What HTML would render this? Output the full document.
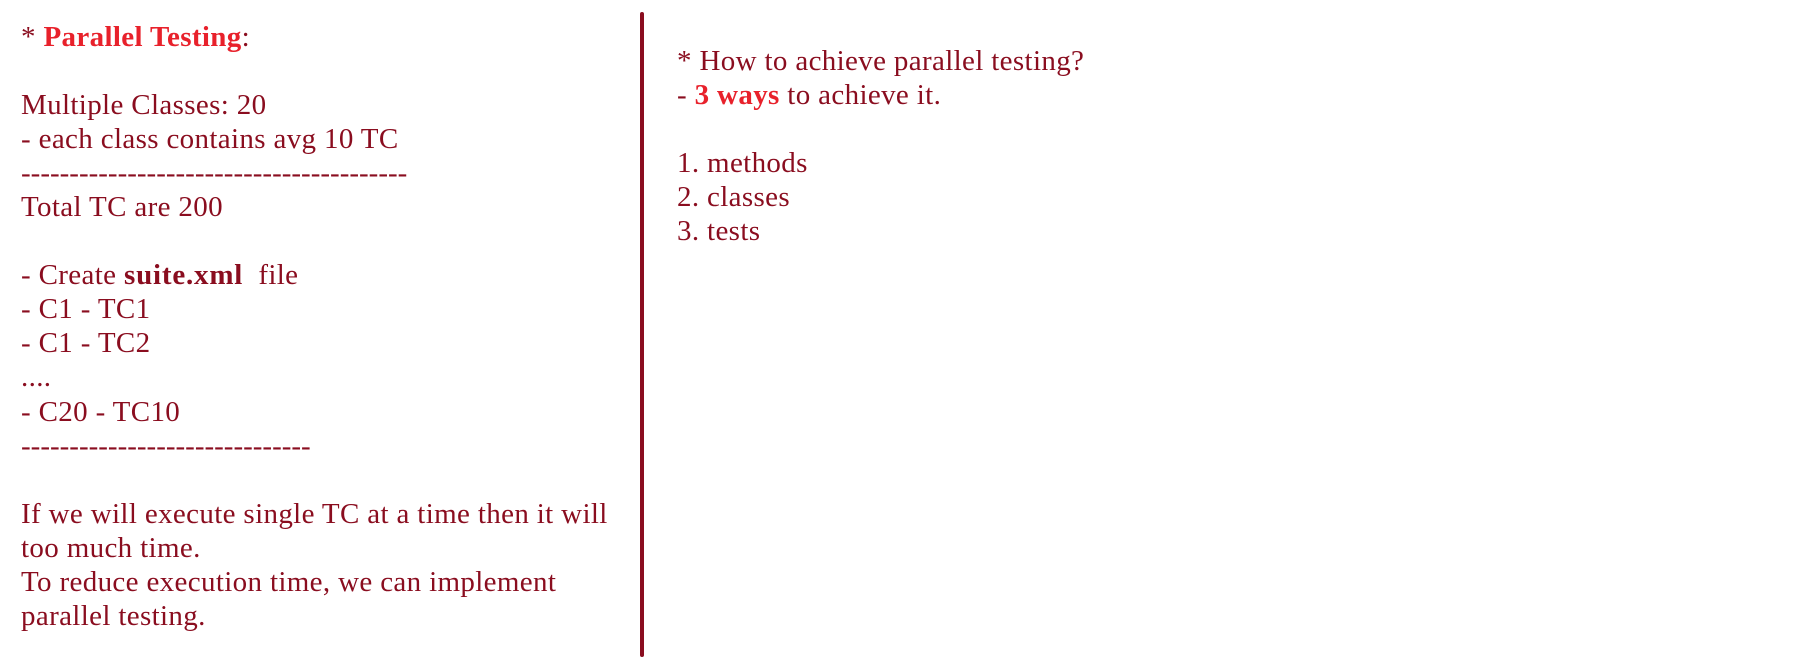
<!DOCTYPE html>
<html><head><style>
body{margin:0;width:1811px;height:665px;background:#fff;overflow:hidden;position:relative;font-family:"Liberation Serif",serif;font-size:29px;letter-spacing:0.35px;color:#8a0d1f;}
.col{position:absolute;line-height:34.05px;white-space:pre;}
.r{color:#e8212b;font-weight:bold}
b{font-weight:bold;letter-spacing:0.8px}
.d{letter-spacing:0}
.bar{position:absolute;left:640px;top:12px;width:4px;height:645px;background:#8a0d1f;border-radius:2px}
</style></head><body>
<div class="col" style="left:21px;top:20px">* <span class="r">Parallel Testing</span>:

Multiple Classes: 20
- each class contains avg 10 TC
<span class="d">----------------------------------------</span>
Total TC are 200

- Create <b>suite.xml</b>  file
- C1 - TC1
- C1 - TC2
....
- C20 - TC10
<span class="d">------------------------------</span>

If we will execute single TC at a time then it will
too much time.
To reduce execution time, we can implement
parallel testing.</div>
<div class="bar"></div>
<div class="col" style="left:677px;top:44px">* How to achieve parallel testing?
- <span class="r">3 ways</span> to achieve it.

1. methods
2. classes
3. tests</div>
</body></html>
